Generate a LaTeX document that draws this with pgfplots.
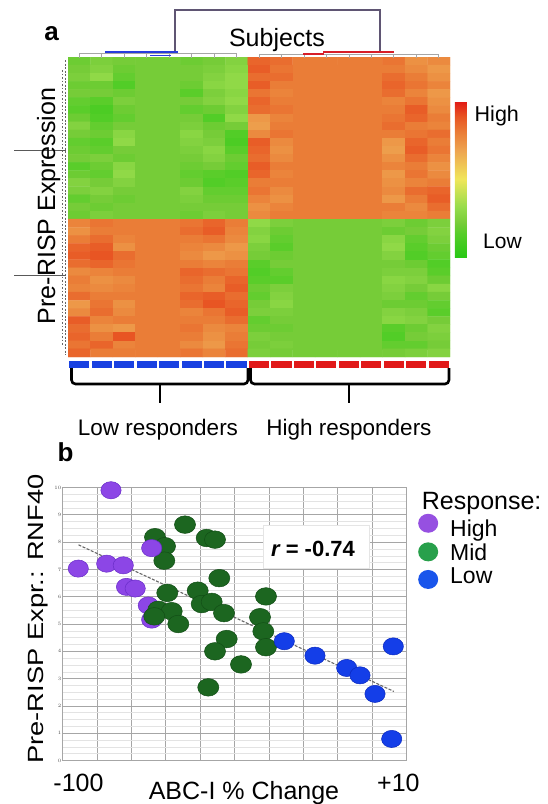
\documentclass[border=0pt]{standalone}
\usepackage{fontspec}
\setmainfont{Liberation Sans}
\usepackage{pgfplots}
\pgfplotsset{compat=1.18}
\newcommand\fs[1]{\fontsize{#1}{#1}\selectfont}

\definecolor{hpurple}{RGB}{140,70,230}
\definecolor{hpurpleE}{RGB}{105,45,200}
\definecolor{mgreen}{RGB}{28,102,32}
\definecolor{mgreenE}{RGB}{18,78,22}
\definecolor{lblue}{RGB}{20,62,232}
\definecolor{lblueE}{RGB}{10,40,190}
\definecolor{legpurple}{RGB}{150,80,225}
\definecolor{leggreen}{RGB}{40,160,75}
\definecolor{legblue}{RGB}{25,85,235}
\definecolor{barblue}{RGB}{25,65,225}
\definecolor{barred}{RGB}{225,25,25}
\definecolor{dendro}{RGB}{95,85,115}
\definecolor{treeblue}{RGB}{40,60,220}
\definecolor{treered}{RGB}{215,30,40}

\begin{document}
\begin{tikzpicture}
\path[use as bounding box] (0pt,0pt) rectangle (547pt,-804pt);

% ---------------- panel a: heatmap ----------------
\begin{axis}[
  at={(68pt,-357pt)}, anchor=south west,
  scale only axis, width=382pt, height=300pt,
  xmin=-0.5, xmax=16.5, ymin=-0.5, ymax=36.5,
  y dir=reverse,
  axis line style={draw=none}, xtick=\empty, ytick=\empty,
  colormap={heat}{rgb255(0pt)=(40,200,20) rgb255(15pt)=(85,205,40)
    rgb255(22pt)=(118,204,56) rgb255(32pt)=(150,220,75) rgb255(50pt)=(240,230,90)
    rgb255(68pt)=(238,165,80) rgb255(80pt)=(234,125,55) rgb255(90pt)=(232,85,35)
    rgb255(100pt)=(225,25,20)},
  point meta min=0, point meta max=100,
  colorbar,
  colorbar style={at={(1.013,0.853)}, anchor=north west, scale only axis,
    width=12pt, height=156pt, xtick=\empty, ytick=\empty,
    axis line style={draw=none}},
]
\addplot[matrix plot*, mesh/cols=17, point meta=explicit,
  skip coords between index={629}{2000}]
  table[row sep=\\, meta=c,
    x expr={\coordindex-17*floor((\coordindex+0.5)/17)},
    y expr={floor((\coordindex+0.5)/17)}] {
c\\
20\\24\\22\\22\\22\\20\\22\\26\\86\\84\\80\\80\\80\\80\\82\\74\\76\\
22\\26\\20\\22\\22\\22\\24\\28\\88\\82\\80\\80\\80\\80\\80\\76\\72\\
24\\30\\18\\22\\22\\22\\26\\30\\84\\84\\80\\80\\80\\80\\84\\80\\74\\
20\\20\\14\\22\\22\\20\\28\\30\\88\\80\\80\\80\\80\\80\\86\\82\\78\\
22\\22\\20\\22\\22\\16\\24\\28\\82\\78\\80\\80\\80\\80\\84\\78\\72\\
18\\16\\24\\22\\22\\22\\26\\30\\86\\80\\80\\80\\80\\80\\78\\82\\74\\
16\\12\\20\\22\\22\\18\\20\\26\\84\\82\\80\\80\\80\\80\\80\\88\\76\\
20\\14\\18\\22\\22\\22\\14\\30\\72\\78\\80\\80\\80\\80\\82\\86\\80\\
26\\18\\22\\22\\22\\24\\20\\22\\70\\80\\80\\80\\80\\80\\84\\80\\78\\
22\\20\\28\\22\\22\\28\\22\\14\\76\\82\\80\\80\\80\\80\\80\\82\\84\\
18\\16\\30\\22\\22\\26\\24\\12\\88\\76\\80\\80\\80\\80\\72\\86\\80\\
20\\18\\22\\22\\22\\24\\28\\16\\86\\74\\80\\80\\80\\80\\70\\88\\82\\
22\\24\\20\\22\\22\\22\\26\\20\\84\\76\\80\\80\\80\\80\\74\\84\\78\\
16\\20\\28\\22\\22\\20\\22\\18\\88\\80\\80\\80\\80\\80\\78\\80\\74\\
20\\18\\30\\22\\22\\18\\16\\14\\86\\78\\80\\80\\80\\80\\72\\82\\76\\
26\\22\\26\\22\\22\\20\\14\\16\\80\\80\\80\\80\\80\\80\\74\\78\\80\\
24\\26\\22\\22\\22\\26\\18\\18\\82\\76\\80\\80\\80\\80\\76\\84\\86\\
18\\22\\20\\22\\22\\24\\20\\20\\78\\74\\80\\80\\80\\80\\72\\80\\88\\
22\\20\\22\\22\\22\\22\\22\\22\\74\\78\\80\\80\\80\\80\\80\\76\\84\\
20\\24\\22\\22\\22\\20\\24\\22\\76\\80\\80\\80\\80\\80\\78\\78\\80\\
78\\82\\80\\80\\80\\82\\86\\80\\30\\24\\22\\22\\22\\22\\24\\20\\24\\
74\\80\\80\\80\\80\\84\\88\\78\\26\\20\\22\\22\\22\\22\\20\\22\\26\\
80\\84\\78\\80\\80\\80\\82\\76\\28\\18\\22\\22\\22\\22\\28\\18\\24\\
86\\88\\74\\80\\80\\78\\76\\72\\24\\16\\22\\22\\22\\22\\30\\16\\20\\
88\\90\\84\\80\\80\\76\\72\\74\\22\\20\\22\\22\\22\\22\\26\\14\\18\\
84\\86\\82\\80\\80\\80\\78\\80\\16\\22\\22\\22\\22\\22\\22\\20\\14\\
76\\78\\80\\80\\80\\86\\84\\82\\14\\18\\22\\22\\22\\22\\24\\24\\16\\
80\\74\\76\\80\\80\\84\\80\\86\\16\\16\\22\\22\\22\\22\\28\\26\\20\\
78\\76\\78\\80\\80\\82\\78\\88\\20\\24\\22\\22\\22\\22\\26\\22\\28\\
84\\80\\80\\80\\80\\86\\88\\84\\18\\26\\22\\22\\22\\22\\24\\18\\22\\
72\\82\\74\\80\\80\\84\\90\\86\\22\\28\\22\\22\\22\\22\\20\\20\\18\\
76\\84\\76\\80\\80\\78\\82\\88\\24\\24\\22\\22\\22\\22\\26\\24\\16\\
88\\78\\80\\80\\80\\80\\80\\84\\18\\22\\22\\22\\22\\22\\28\\26\\22\\
84\\74\\72\\80\\80\\82\\76\\78\\20\\20\\22\\22\\22\\22\\16\\20\\26\\
86\\80\\90\\80\\80\\80\\74\\80\\24\\22\\22\\22\\22\\22\\14\\22\\24\\
82\\86\\78\\80\\80\\76\\72\\82\\22\\24\\22\\22\\22\\22\\18\\18\\22\\
86\\80\\80\\80\\80\\82\\78\\84\\24\\22\\22\\22\\22\\22\\22\\24\\26\\};
\end{axis}

% ---------------- panel b: scatter ----------------
\begin{axis}[
  at={(62.5pt,-760.5pt)}, anchor=south west,
  scale only axis, width=344pt, height=273pt,
  xmin=-105.5, xmax=12.79, ymin=0, ymax=10,
  xtick={-105.5,-93.67,-81.84,-70.01,-58.18,-46.36,-34.53,-22.70,-10.87,0.96,12.79},
  xticklabels={},
  ytick={0,1,...,10},
  minor x tick num=3, minor y tick num=3,
  grid=both,
  major grid style={draw=gray!70, line width=0.7pt},
  minor grid style={draw=gray!22, line width=0.5pt},
  axis line style={draw=gray!70, line width=0.7pt},
  tick style={draw=none},
  extra x ticks={-100,10}, extra x tick labels={-100,+10},
  extra x tick style={grid=none},
  xticklabel style={font=\fs{25}, anchor=base, inner sep=0pt, yshift=-30.5pt},
  yticklabel style={font=\fs{4.5}, text=gray!60!black, inner sep=1pt},
  legend cell align=left,
  legend style={at={(1.0334,0.8802)}, anchor=north west, draw=none, fill=none,
    font=\fs{23}, inner sep=0pt, row sep=0pt,
    nodes={inner sep=0pt, text height=16.5pt, text depth=6.8pt}},
]
\addplot[forget plot, gray!80!black, line width=1.1pt, dash pattern=on 3pt off 1.5pt]
  coordinates {(-100,7.90) (8.46,2.53)};
\addplot[forget plot, only marks, mark=*, mark size=8.6pt,
  mark options={xscale=1.18, fill=hpurple, draw=hpurpleE, line width=0.5pt}]
  coordinates {(-88.82,9.90) (-100.07,7.03) (-90.30,7.21) (-84.60,7.15)
    (-83.5,6.36) (-80.5,6.30) (-76.0,5.68) (-74.83,5.16)};
\addplot[forget plot, only marks, mark=*, mark size=8.8pt,
  mark options={xscale=1.2, fill=mgreen, draw=mgreenE, line width=0.5pt}]
  coordinates {(-63.38,8.64) (-73.69,8.18) (-70.25,7.85) (-70.49,7.32)
    (-55.92,8.15) (-53.06,8.09) (-51.58,6.68) (-69.47,6.14) (-59.01,6.22)
    (-57.64,5.73) (-54.20,5.81) (-49.97,5.40) (-72.56,5.52) (-67.95,5.47)
    (-73.94,5.28) (-65.68,5.00) (-49.04,4.45) (-53.06,4.00) (-55.37,2.68)
    (-44.12,3.52) (-35.53,6.01) (-37.59,5.25) (-36.45,4.73) (-35.53,4.15)};
\addplot[forget plot, only marks, mark=*, mark size=8.6pt,
  mark options={xscale=1.18, fill=hpurple, draw=hpurpleE, line width=0.5pt}]
  coordinates {(-74.83,7.78)};
\addplot[forget plot, only marks, mark=*, mark size=8.6pt,
  mark options={xscale=1.18, fill=lblue, draw=lblueE, line width=0.5pt}]
  coordinates {(-29.23,4.37) (-18.68,3.84) (-7.78,3.39) (-3.20,3.12)
    (1.96,2.44) (8.25,4.18) (7.70,0.79)};
\addlegendimage{legend image code/.code={\path[draw=none] (0pt,0pt) -- (32pt,0pt);
  \fill[legpurple, draw=none, overlay] (10pt,8.8pt) ellipse [x radius=10pt, y radius=9.5pt];}}
\addlegendentry{High}
\addlegendimage{legend image code/.code={\path[draw=none] (0pt,0pt) -- (32pt,0pt);
  \fill[leggreen, draw=none, overlay] (10pt,3.5pt) ellipse [x radius=10pt, y radius=9.5pt];}}
\addlegendentry{Mid}
\addlegendimage{legend image code/.code={\path[draw=none] (0pt,0pt) -- (32pt,0pt);
  \fill[legblue, draw=none, overlay] (10pt,-0.8pt) ellipse [x radius=10pt, y radius=9.5pt];}}
\addlegendentry{Low}
\end{axis}

% ---------------- decorations, 1 unit = 1 px, y downwards ----------------
\begin{scope}[x=1pt, y=-1pt]
  % top dendrogram
  \draw[dendro, line width=1.1pt] (175,52) -- (175,10) -- (380,10) -- (380,52);
  \foreach \c in {79.2,101.7,124.2,146.6,169.1,191.6,214.0,236.5}
    \draw[gray!70, line width=0.8pt] (\c,57.5) -- (\c,53.5);
  \draw[gray!70, line width=0.8pt] (79.2,53.5) -- (236.5,53.5);
  \draw[treeblue, line width=1.6pt] (105,51.8) -- (178,51.8);
  \draw[treeblue, line width=1.2pt] (150,55.5) -- (171,55.5);
  \foreach \c in {259.0,281.5,303.9,326.4,348.9,371.4,393.8,416.3,438.8}
    \draw[gray!70, line width=0.8pt] (\c,57.5) -- (\c,54);
  \draw[gray!70, line width=0.8pt] (259,54) -- (438.8,54);
  \draw[treered, line width=1.6pt] (303,54) -- (324,54);
  \draw[treered, line width=1.6pt] (323,52) -- (394,52);
  % left dendrogram
  \draw[gray!80!black, line width=0.8pt, dash pattern=on 2pt off 1.5pt] (65,60) -- (65,355);
  \draw[gray!80!black, line width=0.8pt, dash pattern=on 1.5pt off 2pt] (62.5,70) -- (62.5,345);
  \draw[gray!70!black, line width=0.9pt] (14,150) -- (66,150);
  \draw[gray!70!black, line width=0.9pt] (14,275) -- (66,275);
  % group bar
  \foreach \i in {0,...,7}
    \fill[barblue] ({68+22.47*\i+1.2},361) rectangle ({68+22.47*(\i+1)-1.2},367.5);
  \foreach \i in {8,...,16}
    \fill[barred] ({68+22.47*\i+1.2},361) rectangle ({68+22.47*(\i+1)-1.2},367.5);
  % braces
  \draw[line width=2.6pt, rounded corners=4pt] (71.5,368) -- (71.5,384) -- (248,384) -- (248,368);
  \draw[line width=2.6pt] (160,384) -- (160,403);
  \draw[line width=2.6pt, rounded corners=4pt] (250.5,368) -- (250.5,384) -- (449,384) -- (449,368);
  \draw[line width=2.6pt] (349,384) -- (349,403);
  % texts panel a
  \node[anchor=base, font=\fs{26}\bfseries, inner sep=0pt] at (51.5,40) {a};
  \node[anchor=base, font=\fs{25}, inner sep=0pt] at (277,46) {Subjects};
  \node[anchor=base, rotate=90, font=\fs{25}, inner sep=0pt] at (55,206) {Pre-RISP Expression};
  \node[anchor=base west, font=\fs{21.5}, inner sep=0pt] at (474.5,121.5) {High};
  \node[anchor=base west, font=\fs{21}, inner sep=0pt] at (483,248.3) {Low};
  \node[anchor=base, font=\fs{22.5}, inner sep=0pt] at (158,435.3) {Low responders};
  \node[anchor=base, font=\fs{22.5}, inner sep=0pt] at (349,435.3) {High responders};
  % texts panel b
  \node[anchor=base west, font=\fs{26}\bfseries, inner sep=0pt] at (57.5,461) {b};
  \node[anchor=base, rotate=90, xscale=1.24, font=\fs{22}, inner sep=0pt] at (43.5,619) {Pre-RISP Expr.: RNF40};
  \node[anchor=base, font=\fs{25}, inner sep=0pt] at (244,799) {ABC-I \% Change};
  \node[anchor=base west, font=\fs{25}, inner sep=0pt] at (421.7,509.3) {Response:};
  \fill[white] (263,525) rectangle (369,568);
  \draw[gray!20, line width=0.5pt] (263,525) rectangle (369,568);
  \node[anchor=base, font=\fs{22}\bfseries, inner sep=0pt] at (313,556.5) {\itshape r\upshape{} = -0.74};
\end{scope}
\end{tikzpicture}
\end{document}
